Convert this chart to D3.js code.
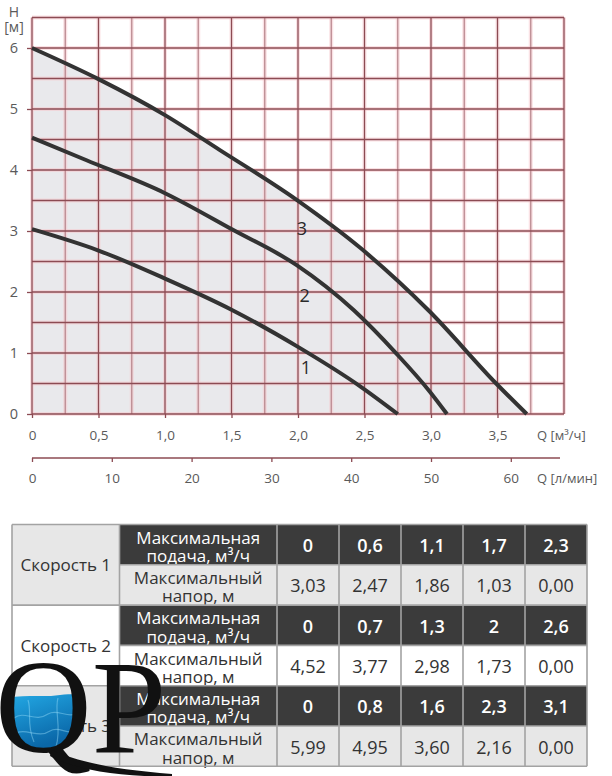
<!DOCTYPE html>
<html>
<head>
<meta charset="utf-8">
<script src="https://cdn.jsdelivr.net/npm/d3@7"></script>
<style>
  html, body { margin: 0; padding: 0; background: #fff; }
  svg { display: block; font-family: "Open Sans", "Noto Sans", sans-serif; }
</style>
</head>
<body>
<div id="chart"></div>
<script>
// --- chart data (Q in m3/h, H in m) ---
const qTicks = [0, 0.5, 1.0, 1.5, 2.0, 2.5, 3.0, 3.5];
const lminTicks = [0, 10, 20, 30, 40, 50, 60];
const hTicks = [0, 1, 2, 3, 4, 5, 6];

const curve1 = [[0, 3.03], [0.5, 2.68], [1.0, 2.22], [1.5, 1.71], [2.0, 1.10], [2.47, 0.45], [2.75, 0]];
const curve2 = [[0, 4.53], [0.41, 4.16], [1.0, 3.62], [1.51, 3.02], [1.99, 2.44], [2.42, 1.70], [2.74, 0.99], [2.99, 0.37], [3.12, 0]];
const curve3 = [[0, 6.0], [0.5, 5.49], [1.0, 4.90], [1.41, 4.33], [1.99, 3.51], [2.47, 2.72], [2.99, 1.68], [3.49, 0.50], [3.72, 0]];
const curveLabels = ["1", "2", "3"];
const labelPos = [[2.06, 0.76], [2.05, 1.94], [2.03, 3.04]];

// --- table data ---
const speeds = ["Скорость 1", "Скорость 2", "Скорость 3"];
const flowLabel = ["Максимальная", "подача, м³/ч"];
const headLabel = ["Максимальный", "напор, м"];
const flows = [["0", "0,6", "1,1", "1,7", "2,3"], ["0", "0,7", "1,3", "2", "2,6"], ["0", "0,8", "1,6", "2,3", "3,1"]];
const heads = [["3,03", "2,47", "1,86", "1,03", "0,00"], ["4,52", "3,77", "2,98", "1,73", "0,00"], ["5,99", "4,95", "3,60", "2,16", "0,00"]];

const W = 612, H = 776;
const svg = d3.select("#chart").append("svg").attr("width", W).attr("height", H);

const x = d3.scaleLinear().domain([0, 4]).range([32, 564]);
const y = d3.scaleLinear().domain([0, 6.5]).range([414, 17.5]);
const xl = d3.scaleLinear().domain([0, 4000 / 60]).range([32, 564]);

const major = "#8c4b53", minor = "#ba8a90", glow = "#f6c8ce";
const fmt = d => d === 0 ? "0" : d3.format(".1f")(d).replace(".", ",");

// gray area under the top curve
svg.append("path")
  .datum(curve3)
  .attr("fill", "#e9e9ec")
  .attr("d", d3.area().x(d => x(d[0])).y0(y(0)).y1(d => y(d[1])).curve(d3.curveMonotoneX));

// grid
const vLines = d3.range(0, 16.5).map(i => i * 0.25);
const hLines = d3.range(0, 13.5).map(i => i * 0.5);
const grid = svg.append("g");
[["glow", 4], ["line", 1.3]].forEach(([kind, sw]) => {
  grid.append("g").selectAll("line").data(vLines).join("line")
    .attr("x1", d => x(d)).attr("x2", d => x(d))
    .attr("y1", y(6.5)).attr("y2", y(0))
    .attr("stroke", d => kind === "glow" ? glow : (Math.round(d * 4) % 2 === 0 ? major : minor))
    .attr("stroke-opacity", kind === "glow" ? 0.55 : 1)
    .attr("stroke-width", sw);
  grid.append("g").selectAll("line").data(hLines).join("line")
    .attr("x1", x(0)).attr("x2", x(4))
    .attr("y1", d => y(d)).attr("y2", d => y(d))
    .attr("stroke", kind === "glow" ? glow : major)
    .attr("stroke-opacity", kind === "glow" ? 0.55 : 1)
    .attr("stroke-width", sw);
});

// curves
const line = d3.line().x(d => x(d[0])).y(d => y(d[1])).curve(d3.curveMonotoneX);
svg.append("g").selectAll("path").data([curve1, curve2, curve3]).join("path")
  .attr("d", line)
  .attr("fill", "none")
  .attr("stroke", "#333")
  .attr("stroke-width", 4);

svg.append("g").selectAll("text").data(curveLabels).join("text")
  .attr("x", (d, i) => x(labelPos[i][0]))
  .attr("y", (d, i) => y(labelPos[i][1]))
  .attr("text-anchor", "middle")
  .attr("dy", "0.36em")
  .attr("font-size", 18)
  .attr("fill", "#2a2a2a")
  .text(d => d);

// axes
const styleAxis = g => {
  g.selectAll(".domain").attr("stroke", major).attr("stroke-width", 1.3);
  g.selectAll(".tick line").attr("stroke", major).attr("stroke-width", 1.3);
  g.selectAll("text").attr("fill", "#5a5a5a").attr("font-size", 13.5)
    .attr("font-family", "'Open Sans', sans-serif");
};

svg.append("g").attr("transform", `translate(0,${y(0)})`)
  .call(d3.axisBottom(x).tickValues(qTicks).tickFormat(fmt).tickSize(4).tickPadding(12).tickSizeOuter(0))
  .call(styleAxis)
  .call(g => g.select(".domain").remove());

svg.append("g").attr("transform", "translate(0,458)")
  .call(d3.axisBottom(xl).tickValues(lminTicks).tickSize(4).tickPadding(11).tickSizeOuter(0))
  .call(styleAxis)
  .call(g => g.select(".domain").attr("d", `M${x(0)},0H560`));

svg.append("g").attr("transform", `translate(${x(0)},0)`)
  .call(d3.axisLeft(y).tickValues(hTicks).tickFormat(d3.format("d")).tickSize(5).tickPadding(9).tickSizeOuter(0))
  .call(styleAxis)
  .call(g => g.select(".domain").remove())
  .call(g => g.selectAll("text").attr("font-size", 14.5));

const axisText = svg.append("g").attr("fill", "#5a5a5a").attr("font-size", 13);
axisText.append("text").attr("x", 14).attr("y", 17).attr("text-anchor", "middle").attr("font-size", 14).text("H");
axisText.append("text").attr("x", 14).attr("y", 32).attr("text-anchor", "middle").attr("font-size", 14).text("[м]");
axisText.append("text").attr("x", 537).attr("y", 440).text("Q [м³/ч]");
axisText.append("text").attr("x", 537).attr("y", 483).text("Q [л/мин]");

// --- table ---
const tTop = 524.5, rowH = 40.3;
const colX = [12, 119.5, 277, 339, 401, 463, 525, 587];
const dark = "#3b3b3b", light = "#e7e7e7", border = "#a3a3a3";
const groupFill = [light, "#ffffff", light];
const table = svg.append("g");

speeds.forEach((s, gi) => {
  const top = tTop + gi * 2 * rowH;
  const g = table.append("g");
  g.append("rect").attr("x", colX[0]).attr("y", top).attr("width", colX[1] - colX[0]).attr("height", 2 * rowH)
    .attr("fill", groupFill[gi]);
  g.append("text").attr("x", (colX[0] + colX[1]) / 2).attr("y", top + rowH).attr("dy", "0.36em")
    .attr("text-anchor", "middle").attr("font-size", 17).attr("fill", "#333").text(s);
  [[flowLabel, flows[gi], dark, "#fff", 600], [headLabel, heads[gi], groupFill[gi], "#333", 400]].forEach(([lab, vals, bg, fg, fw], ri) => {
    const ry = top + ri * rowH;
    g.append("rect").attr("x", colX[1]).attr("y", ry).attr("width", colX[7] - colX[1]).attr("height", rowH).attr("fill", bg);
    g.append("g").selectAll("text").data(lab).join("text")
      .attr("x", (colX[1] + colX[2]) / 2)
      .attr("y", (d, i) => ry + 13 + i * 18.5)
      .attr("dy", "0.36em").attr("text-anchor", "middle")
      .attr("font-size", 17).attr("fill", fg).attr("font-weight", ri === 0 ? 500 : 400)
      .text(d => d);
    g.append("g").selectAll("text").data(vals).join("text")
      .attr("x", (d, i) => (colX[i + 2] + colX[i + 3]) / 2)
      .attr("y", ry + rowH / 2 + 1).attr("dy", "0.36em").attr("text-anchor", "middle")
      .attr("font-size", 18).attr("fill", fg).attr("font-weight", fw)
      .text(d => d);
  });
});

// table borders
const rowYs = d3.range(0, 7).map(i => tTop + i * rowH);
table.append("g").selectAll("line").data(rowYs).join("line")
  .attr("x1", (d, i) => (i % 2 === 1) ? colX[1] : colX[0]).attr("x2", colX[7])
  .attr("y1", d => d).attr("y2", d => d)
  .attr("stroke", border).attr("stroke-width", 1.6);
table.append("g").selectAll("line").data(colX).join("line")
  .attr("x1", d => d).attr("x2", d => d)
  .attr("y1", tTop).attr("y2", rowYs[6])
  .attr("stroke", border).attr("stroke-width", 1.6);

// --- QP logo watermark ---
const defs = svg.append("defs");
const grad = defs.append("linearGradient").attr("id", "water").attr("x1", 0).attr("y1", 0).attr("x2", 0.3).attr("y2", 1);
grad.append("stop").attr("offset", 0).attr("stop-color", "#45c6f2");
grad.append("stop").attr("offset", 0.45).attr("stop-color", "#1e9cd9");
grad.append("stop").attr("offset", 1).attr("stop-color", "#0a67a8");
defs.append("clipPath").attr("id", "waterClip").append("path")
  .attr("d", "M0,700 C20,693 40,698 60,695 C72,693 80,696 95,697 L95,760 L0,760 Z");
const logo = svg.append("g");
logo.append("ellipse").attr("cx", 44).attr("cy", 708).attr("rx", 37).attr("ry", 42)
  .attr("fill", "url(#water)").attr("clip-path", "url(#waterClip)");
logo.append("g").attr("clip-path", "url(#waterClip)").selectAll("path")
  .data(["M14,718 C25,710 35,723 48,714 C58,708 68,720 80,712",
         "M14,734 C26,727 38,739 50,731 C60,725 68,737 78,729",
         "M28,700 C32,712 26,724 34,742", "M58,698 C54,712 62,726 56,747"])
  .join("path").attr("d", d => d).attr("fill", "none")
  .attr("stroke", "#a6e6ff").attr("stroke-opacity", 0.4).attr("stroke-width", 1.2);
logo.append("text").attr("x", -5).attr("y", 752)
  .attr("font-family", "'Liberation Serif', 'DejaVu Serif', serif")
  .attr("font-size", 134).attr("fill", "#111").text("QP");
logo.append("path")
  .attr("d", "M52,750 C80,763 120,770 172,774 L172,777 C120,776 78,771 50,756 Z")
  .attr("fill", "#111");
</script>
</body>
</html>
